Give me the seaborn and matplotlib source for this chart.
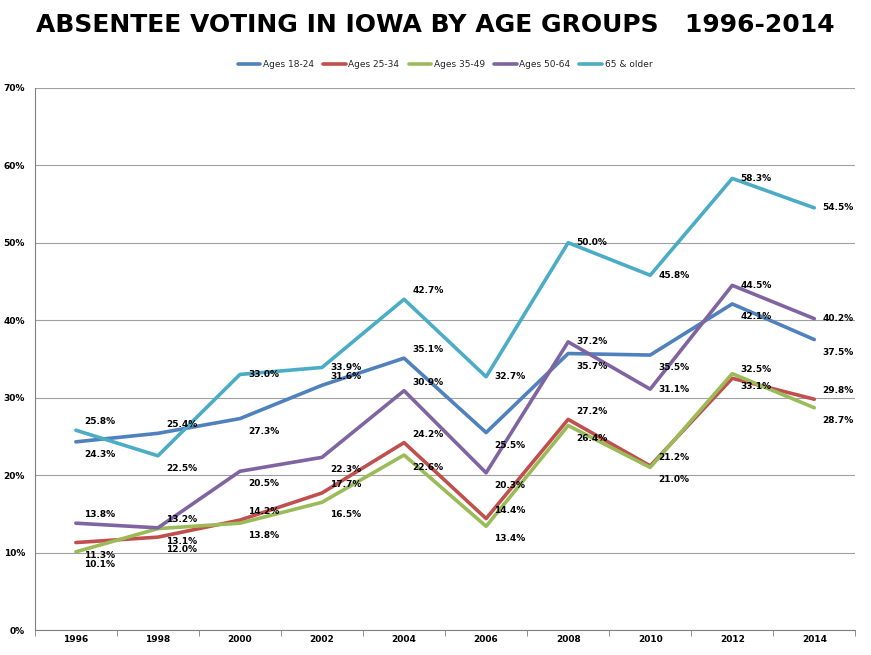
import numpy as np
import pandas as pd
import seaborn as sns
import matplotlib.pyplot as plt
from matplotlib.ticker import PercentFormatter

# data
years = [1996, 1998, 2000, 2002, 2004, 2006, 2008, 2010, 2012, 2014]
ages_18_24 = [24.3, 25.4, 27.3, 31.6, 35.1, 25.5, 35.7, 35.5, 42.1, 37.5]
ages_25_34 = [11.3, 12.0, 14.2, 17.7, 24.2, 14.4, 27.2, 21.2, 32.5, 29.8]
ages_35_49 = [10.1, 13.1, 13.8, 16.5, 22.6, 13.4, 26.4, 21.0, 33.1, 28.7]
ages_50_64 = [13.8, 13.2, 20.5, 22.3, 30.9, 20.3, 37.2, 31.1, 44.5, 40.2]
ages_65_up = [25.8, 22.5, 33.0, 33.9, 42.7, 32.7, 50.0, 45.8, 58.3, 54.5]
names = ['Ages 18-24', 'Ages 25-34', 'Ages 35-49', 'Ages 50-64', '65 & older']
colors = ['#4F81BD', '#C0504D', '#9BBB59', '#8064A2', '#4BACC6']

# label placement: 1 above, -1 below, 0 to the right
label_pos = [
    [-1, 1, -1, 1, 1, -1, -1, -1, -1, -1],
    [-1, -1, 1, 1, 1, 1, 1, 1, 1, 1],
    [-1, -1, -1, -1, -1, -1, -1, -1, -1, -1],
    [1, 1, -1, -1, 1, -1, 0, 0, 0, 0],
    [1, -1, 0, 0, 1, 0, 0, 0, 0, 0],
]

series = [ages_18_24, ages_25_34, ages_35_49, ages_50_64, ages_65_up]
df = pd.DataFrame({'Year': years * 5,
                   'Value': sum(series, []),
                   'Group': sum([[n] * len(years) for n in names], [])})

sns.set_style('white')
fig, ax = plt.subplots(figsize=(8.71, 6.55), dpi=100)
fig.subplots_adjust(left=0.04, right=0.982, top=0.866, bottom=0.038)
ax.yaxis.grid(True, color='#a0a0a0', lw=0.8)
sns.lineplot(data=df, x='Year', y='Value', hue='Group', palette=colors,
             linewidth=2.6, ax=ax)

for vals, pos in zip(series, label_pos):
    for x, y, p in zip(years, vals, pos):
        dy = {1: 6, -1: -9, 0: 0}[p]
        ax.annotate(f'{y:.1f}%', (x, y), xytext=(6, dy), textcoords='offset points',
                    fontsize=6.5, fontweight='bold', va='center', ha='left',
                    color='black')

ax.set_xlim(1995, 2015)
ax.set_ylim(0, 70)
ax.set_xticks(years)
ax.set_xticks(np.arange(1995, 2016, 2), minor=True)
ax.tick_params(axis='x', which='minor', length=4, color='#808080', bottom=True)
ax.tick_params(axis='x', which='major', length=0)
ax.set_yticks(range(0, 71, 10))
ax.yaxis.set_major_formatter(PercentFormatter(decimals=0))
for lab in ax.get_xticklabels() + ax.get_yticklabels():
    lab.set_fontsize(6.5)
    lab.set_fontweight('bold')
    lab.set_color('black')
ax.set_xlabel('')
ax.set_ylabel('')
for s in ['top', 'right']:
    ax.spines[s].set_visible(False)
for s in ['left', 'bottom']:
    ax.spines[s].set_color('#808080')

ax.legend(loc='lower center', bbox_to_anchor=(0.5, 1.02), ncol=5, frameon=False,
          fontsize=6.5, handlelength=2.5, columnspacing=1.0, handletextpad=0.3)
fig.suptitle('ABSENTEE VOTING IN IOWA BY AGE GROUPS   1996-2014',
             fontsize=18, fontweight='bold', y=0.98, color='black')
fig.savefig('out.png')
